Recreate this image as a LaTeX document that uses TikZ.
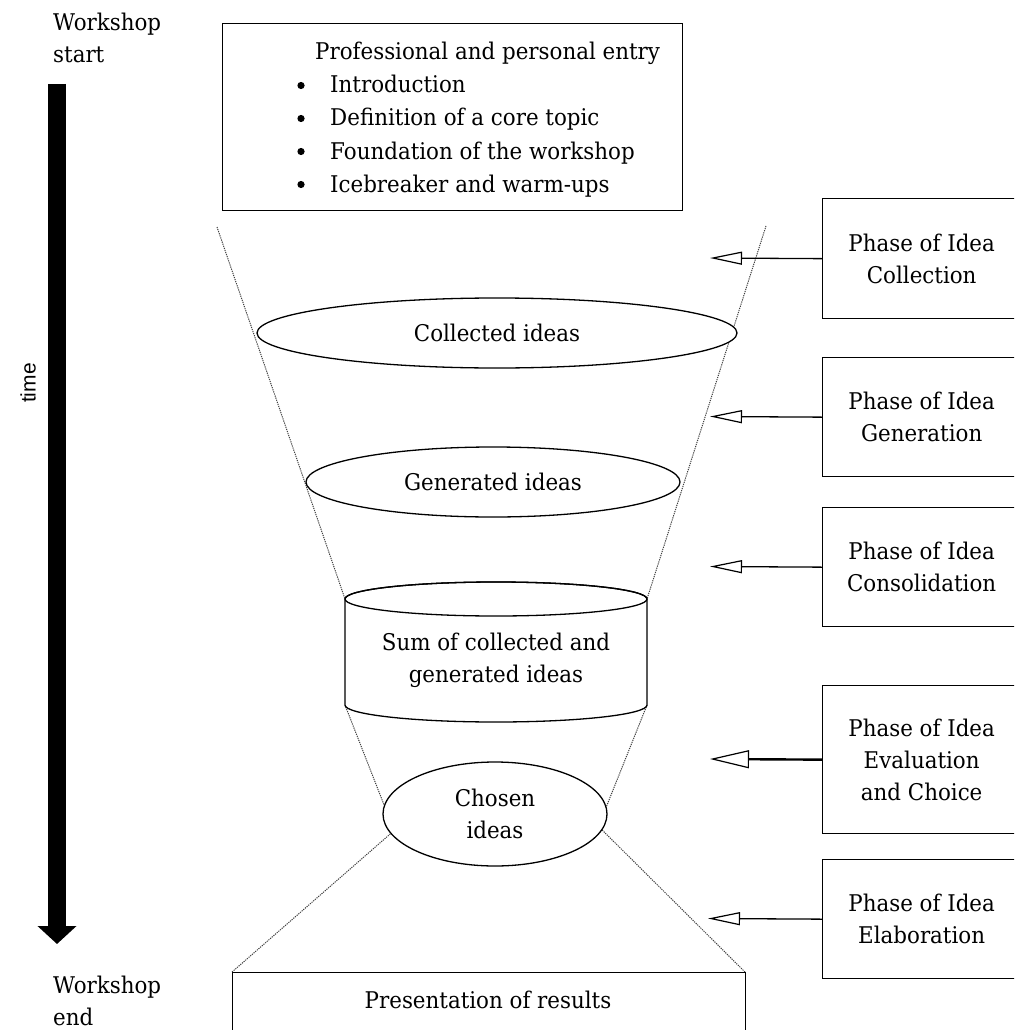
\documentclass[tikz,border=0pt]{standalone}
\usepackage{fontspec}
\setmainfont{DejaVu Serif}[FakeStretch=0.93]
\newfontfamily\labelsans{Liberation Sans}
\usetikzlibrary{arrows.meta,shapes.geometric}

\begin{document}
\begin{tikzpicture}[x=1pt,y=-1pt,
  font=\fontsize{23}{32}\selectfont,
  outline/.style={draw, line width=1.3pt, fill=white},
  phasebox/.style={outline, minimum width=198pt, minimum height=#1, inner sep=0pt, align=center, anchor=north west},
  idea/.style={outline, ellipse, inner sep=0pt, align=center},
  funnel/.style={draw=black!75, line width=1pt, dash pattern=on 1.2pt off 1pt},
  pointer/.style={line width=1.3pt, -{Triangle[open, length=32pt, width=13pt, line width=1.2pt]}},
  widepointer/.style={line width=2.4pt, -{Triangle[open, length=39pt, width=18pt, line width=1.2pt]}},
  plain/.style={inner sep=0pt}
]
\useasboundingbox (0,0) rectangle (1014,1030);
\clip (0,0) rectangle (1014,1030);

% ---- funnel guide lines (behind the shapes) ----
\coordinate (fl0) at (217,227);
\coordinate (fr0) at (766,226);
\coordinate (cyltl) at (345,599);
\coordinate (cyltr) at (647,599);
\coordinate (cylbl) at (345,705);
\coordinate (cylbr) at (647,705);
\coordinate (chl) at (388,815);
\coordinate (chr) at (603,815);
\coordinate (chll) at (420,808);
\coordinate (chrr) at (580,808);
\coordinate (prl) at (232,972);
\coordinate (prr) at (745,972);
\draw[funnel] (fl0) -- (cyltl);
\draw[funnel] (fr0) -- (cyltr);
\draw[funnel] (cylbl) -- (chl);
\draw[funnel] (cylbr) -- (chr);
\draw[funnel] (prl) -- (chll);
\draw[funnel] (prr) -- (chrr);

% ---- time axis ----
\coordinate (timetop) at (57,84);
\coordinate (timeend) at (57,944);
\draw[line width=18pt, -{Triangle[length=18pt, width=38pt]}] (timetop) -- (timeend);
\node[plain, rotate=90, font=\labelsans\fontsize{21}{24}\selectfont] (timelabel) at (28,383) {time};
\node[plain, anchor=base west, align=left] (wstart) at (53,63) {Workshop\\start};
\node[plain, anchor=base west, align=left] (wend) at (53,1025) {Workshop\\end};

% ---- entry box ----
\node[outline, minimum width=460pt, minimum height=187pt, anchor=north west] (entry) at (222,23) {};
\node[plain, anchor=base west] (entrytitle) at (315,60) {Professional and personal entry};
\foreach \txt [count=\i] in {Introduction, Definition of a core topic, Foundation of the workshop, Icebreaker and warm-ups}{
  \fill (301,{60+33*\i-7.5}) circle[radius=3.6pt];
  \node[plain, anchor=base west] (item\i) at (330,{60+33*\i}) {\txt};
}

% ---- idea stages ----
\node[idea, minimum width=480pt, minimum height=70pt] (collected) at (497,333) {Collected ideas};
\node[idea, minimum width=374pt, minimum height=70pt] (generated) at (493,482) {Generated ideas};

\draw[outline] (cyltl) -- (cylbl)
  arc[start angle=180, end angle=360, x radius=151pt, y radius=17pt]
  -- (cyltr) arc[start angle=0, end angle=180, x radius=151pt, y radius=17pt] -- cycle;
\draw[line width=1.3pt] (496,599) ellipse[x radius=151pt, y radius=17pt];
\node[plain, align=center] (sum) at (496,660) {Sum of collected and\\generated ideas};

\node[idea, minimum width=224pt, minimum height=104pt] (chosen) at (495,814) {Chosen\\ideas};

\node[outline, minimum width=513pt, minimum height=80pt, anchor=north west] (results) at (232,972) {};
\node[plain, anchor=base] (resultstext) at (488,1008) {Presentation of results};

% ---- phase boxes ----
\node[phasebox=120pt] (ph1) at (822,198) {Phase of Idea\\Collection};
\node[phasebox=119pt] (ph2) at (822,357) {Phase of Idea\\Generation};
\node[phasebox=119pt] (ph3) at (822,507) {Phase of Idea\\Consolidation};
\node[phasebox=148pt] (ph4) at (822,685) {Phase of Idea\\Evaluation\\and Choice};
\node[phasebox=119pt] (ph5) at (822,859) {Phase of Idea\\Elaboration};

\coordinate (t1) at (710,258);
\coordinate (t2) at (710,416.5);
\coordinate (t3) at (710,566.5);
\coordinate (t4) at (710,759);
\coordinate (t5) at (708,918.5);
\draw[pointer] (ph1.west) -- (t1);
\draw[pointer] (ph2.west) -- (t2);
\draw[pointer] (ph3.west) -- (t3);
\draw[widepointer] (ph4.west) -- (t4);
\draw[pointer] (ph5.west) -- (t5);
\end{tikzpicture}
\end{document}
